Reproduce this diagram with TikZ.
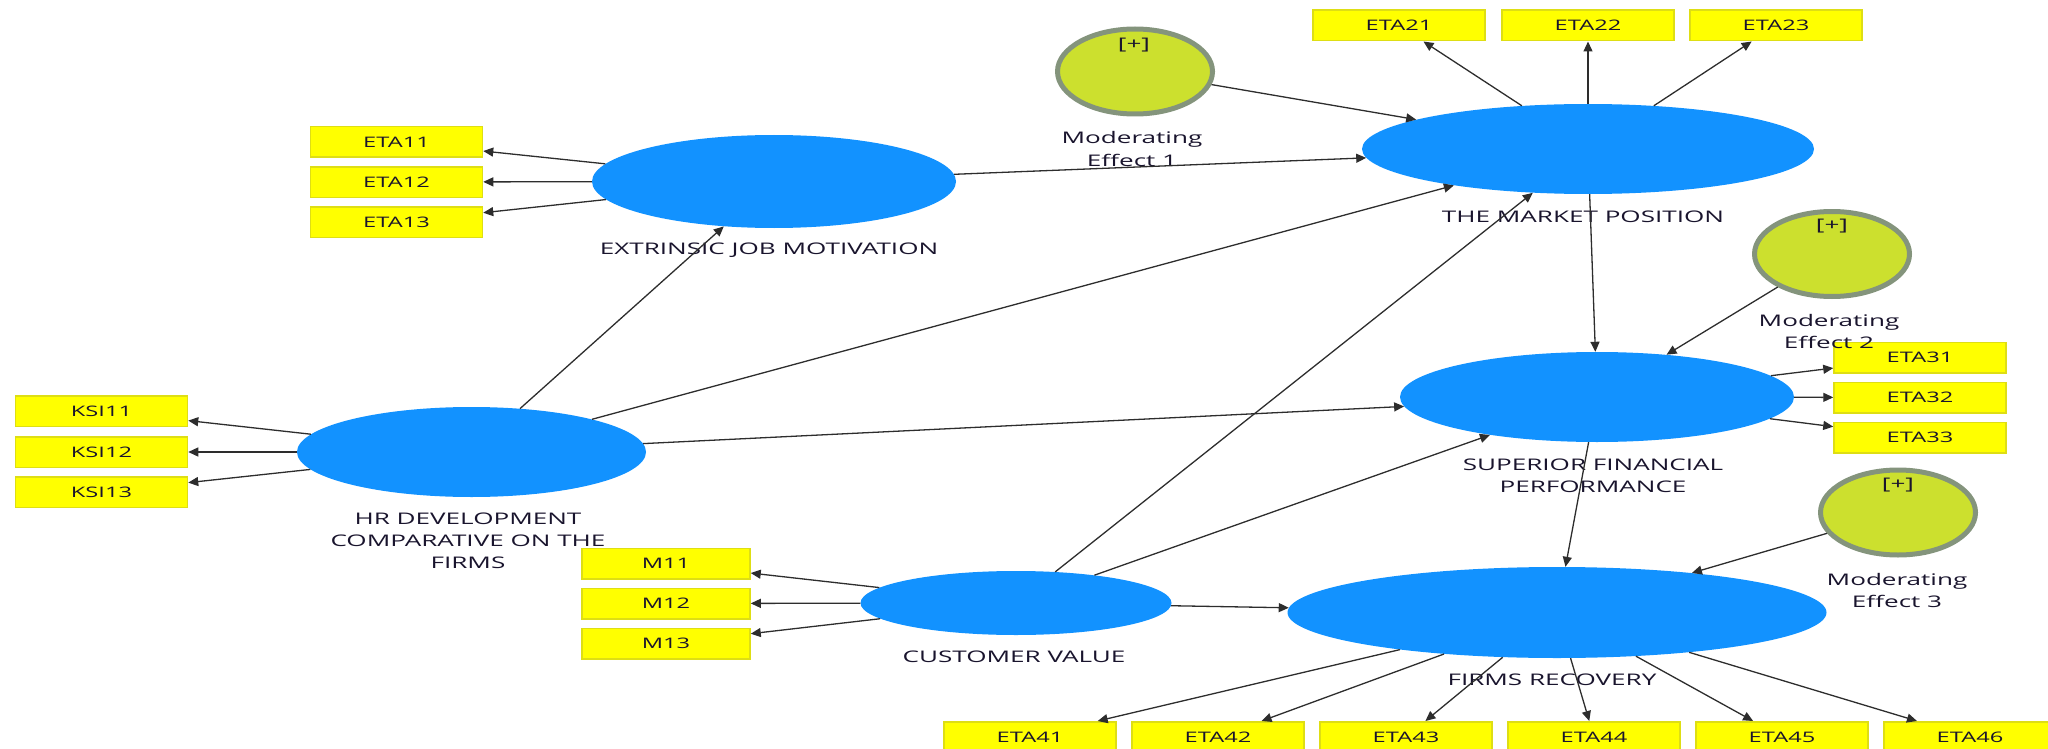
\documentclass[tikz,border=0pt]{standalone}
\usepackage{fontspec}
\setmainfont{Open Sans}[FakeStretch=1.63]
\usetikzlibrary{shapes.geometric,arrows.meta}

\definecolor{latent}{RGB}{18,146,255}
\definecolor{indic}{RGB}{255,255,0}
\definecolor{indicedge}{RGB}{222,222,20}
\definecolor{modfill}{RGB}{204,224,46}
\definecolor{modedge}{RGB}{132,148,124}
\definecolor{wire}{RGB}{45,45,45}
\definecolor{ink}{RGB}{25,20,45}

\begin{document}
\begin{tikzpicture}[x=1pt,y=-1pt,
  latentvar/.style={ellipse, fill=latent, inner sep=0pt},
  indicator/.style={rectangle, fill=indic, draw=indicedge, line width=1.5pt,
    minimum width=172pt, minimum height=30.5pt, inner sep=0pt,
    font=\fontsize{14.5}{17}\selectfont, text=ink},
  moderator/.style={ellipse, fill=modfill, draw=modedge, line width=5pt,
    minimum width=155pt, minimum height=85pt, inner sep=0pt},
  caption/.style={font=\fontsize{16}{22}\selectfont, text=ink, align=center,
    anchor=base, inner sep=0pt},
  link/.style={draw=wire, line width=1.3pt, -{Triangle[length=10pt,width=9pt]}},
]
\clip (0,0) rectangle (2048,749);

% latent variables
\node[latentvar, minimum width=364pt, minimum height=93pt] (ejm) at (774,181.5) {};
\node[latentvar, minimum width=452pt, minimum height=90pt] (mkt) at (1588,149) {};
\node[latentvar, minimum width=394pt, minimum height=90pt] (sfp) at (1597,397) {};
\node[latentvar, minimum width=349pt, minimum height=90pt] (hrd) at (471.5,452) {};
\node[latentvar, minimum width=311pt, minimum height=64pt] (cv)  at (1016,603) {};
\node[latentvar, minimum width=539pt, minimum height=91pt] (fr)  at (1557,612.5) {};

% moderating effects
\node[moderator] (mod1) at (1135,71.5) {};
\node[moderator] (mod2) at (1832,254) {};
\node[moderator] (mod3) at (1898,512.5) {};

% indicators
\node[indicator] (eta11) at (396.5,142) {ETA11};
\node[indicator] (eta12) at (396.5,182) {ETA12};
\node[indicator] (eta13) at (396.5,222) {ETA13};

\node[indicator] (eta21) at (1399,25.5) {ETA21};
\node[indicator] (eta22) at (1588,25.5) {ETA22};
\node[indicator] (eta23) at (1776,25.5) {ETA23};

\node[indicator] (eta31) at (1920,357.5) {ETA31};
\node[indicator] (eta32) at (1920,397.5) {ETA32};
\node[indicator] (eta33) at (1920,437.5) {ETA33};

\node[indicator] (ksi11) at (101.5,411) {KSI11};
\node[indicator] (ksi12) at (101.5,452) {KSI12};
\node[indicator] (ksi13) at (101.5,492) {KSI13};

\node[indicator, minimum width=168pt] (m11) at (666,563.5) {M11};
\node[indicator, minimum width=168pt] (m12) at (666,603.5) {M12};
\node[indicator, minimum width=168pt] (m13) at (666,643.5) {M13};

\node[indicator] (eta41) at (1030,737) {ETA41};
\node[indicator] (eta42) at (1218,737) {ETA42};
\node[indicator] (eta43) at (1406,737) {ETA43};
\node[indicator] (eta44) at (1594,737) {ETA44};
\node[indicator] (eta45) at (1782,737) {ETA45};
\node[indicator] (eta46) at (1970,737) {ETA46};

% captions (anchored at the baseline of their last line)
\node[caption] (ejmlbl) at (769,254) {EXTRINSIC JOB MOTIVATION};
\node[caption] (mktlbl) at (1583,222) {THE MARKET POSITION};
\node[caption] (sfplbl) at (1593,492) {SUPERIOR FINANCIAL\\PERFORMANCE};
\node[caption] (hrdlbl) at (468,568) {HR DEVELOPMENT\\COMPARATIVE ON THE\\FIRMS};
\node[caption] (cvlbl)  at (1014,662) {CUSTOMER VALUE};
\node[caption] (frlbl)  at (1552,685) {FIRMS RECOVERY};
\node[caption] (m1lbl)  at (1132,166) {Moderating\\Effect 1};
\node[caption] (m2lbl)  at (1829,348) {Moderating\\Effect 2};
\node[caption] (m3lbl)  at (1897,607) {Moderating\\Effect 3};
\node[caption, anchor=center] (m1sign) at (1134,45) {[+]};
\node[caption, anchor=center] (m2sign) at (1832,226) {[+]};
\node[caption, anchor=center] (m3sign) at (1898,485) {[+]};

% structural paths
\draw[link] (hrd) -- (ejm);
\draw[link] (hrd) -- (mkt);
\draw[link] (hrd) -- (sfp);
\draw[link] (ejm) -- (mkt);
\draw[link] (mod1) -- (mkt);
\draw[link] (mkt) -- (sfp);
\draw[link] (mod2) -- (sfp);
\draw[link] (cv) -- (mkt);
\draw[link] (cv) -- (sfp);
\draw[link] (cv) -- (fr);
\draw[link] (sfp) -- (fr);
\draw[link] (mod3) -- (fr);

% measurement paths
\foreach \ind in {eta11,eta12,eta13} \draw[link] (ejm) -- (\ind);
\foreach \ind in {eta21,eta22,eta23} \draw[link] (mkt) -- (\ind);
\foreach \ind in {eta31,eta32,eta33} \draw[link] (sfp) -- (\ind);
\foreach \ind in {ksi11,ksi12,ksi13} \draw[link] (hrd) -- (\ind);
\foreach \ind in {m11,m12,m13} \draw[link] (cv) -- (\ind);
\foreach \ind in {eta41,eta42,eta43,eta44,eta45,eta46} \draw[link] (fr) -- (\ind);
\end{tikzpicture}
\end{document}
